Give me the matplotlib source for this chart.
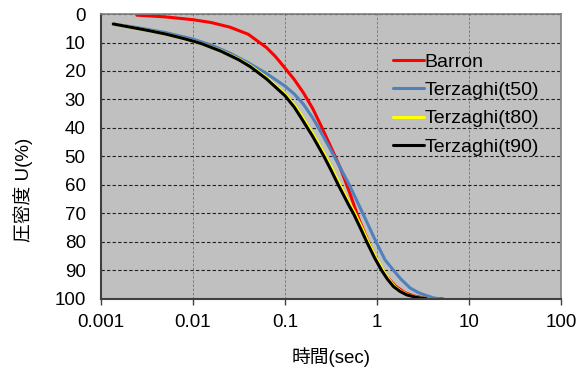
import matplotlib.pyplot as plt

plt.rcParams['font.family'] = ['Liberation Sans', 'Noto Sans CJK JP']

# 経過時間(sec) と 圧密度 U(%)
barron_t = [0.00245, 0.005, 0.01, 0.0158, 0.0251, 0.0398, 0.063, 0.079, 0.1, 0.126,
            0.158, 0.2, 0.251, 0.316, 0.398, 0.501, 0.631, 0.794, 1.0, 1.26,
            1.58, 2.0, 2.51, 3.16, 3.98, 5.2]
barron_u = [0.4, 1.0, 2.0, 3.0, 4.6, 7.1, 11.8, 15.0, 19.0, 23.0,
            27.6, 33.2, 39.8, 46.8, 54.0, 62.5, 71.8, 79.6, 87.0, 92.0,
            95.5, 97.8, 99.0, 99.6, 99.9, 100]

t50_t = [0.00136, 0.00251, 0.005, 0.01, 0.0158, 0.0251, 0.0398, 0.063, 0.1, 0.126,
         0.158, 0.2, 0.251, 0.34, 0.5, 0.7, 0.975, 1.22, 1.51, 1.82,
         2.29, 2.82, 3.47, 4.07, 4.8]
t50_u = [3.5, 4.8, 6.5, 8.8, 10.9, 13.7, 17.1, 20.9, 25.3, 28.1,
         31.6, 36.5, 42, 49.8, 60, 70, 80, 86.3, 90, 93.1,
         96.2, 97.8, 98.9, 99.6, 100]

t80_t = [0.00136, 0.002, 0.00316, 0.005, 0.0079, 0.0105, 0.0126, 0.0205, 0.0326, 0.0435,
         0.0655, 0.104, 0.131, 0.152, 0.208, 0.276, 0.329, 0.395, 0.52, 0.575,
         0.686, 0.80, 0.965, 1.16, 1.33, 1.55, 1.83, 2.15, 2.75, 3.6]
t80_u = [3.5, 4.5, 5.7, 7.0, 8.6, 9.7, 10.5, 13.0, 16.1, 18.5,
         22.8, 28.7, 32.7, 35.9, 43, 50, 54.8, 60, 67.5, 70,
         75.2, 80, 85.4, 90, 93, 95.7, 97.4, 98.6, 99.5, 100]

t90_t = [0.00136, 0.002, 0.00316, 0.005, 0.0079, 0.0105, 0.0126, 0.02, 0.0316, 0.042,
         0.063, 0.1, 0.126, 0.146, 0.2, 0.265, 0.316, 0.379, 0.5, 0.553,
         0.66, 0.772, 0.933, 1.12, 1.29, 1.51, 1.78, 2.1, 2.7, 3.5]
t90_u = [3.5, 4.5, 5.7, 7.0, 8.6, 9.7, 10.5, 13.0, 16.1, 18.5,
         22.8, 28.7, 32.7, 35.9, 43, 50, 54.8, 60, 67.5, 70,
         75.2, 80, 85.4, 90, 93, 95.7, 97.4, 98.6, 99.5, 100]

x_ticks = [0.001, 0.01, 0.1, 1, 10, 100]
x_labels = ['0.001', '0.01', '0.1', '1', '10', '100']
y_ticks = [0, 10, 20, 30, 40, 50, 60, 70, 80, 90, 100]

fig = plt.figure(figsize=(5.87, 3.69), dpi=100)
ax = fig.add_axes([0.172, 0.19, 0.784, 0.772])
ax.set_facecolor('#c0c0c0')

style = dict(lw=2.2, solid_joinstyle='round', solid_capstyle='round')
ax.plot(barron_t, barron_u, color='#ff0000', label='Barron', **style)
ax.plot(t50_t, t50_u, color='#4f81bd', label='Terzaghi(t50)', **style)
ax.plot(t80_t, t80_u, color='#ffff00', label='Terzaghi(t80)', **style)
ax.plot(t90_t, t90_u, color='#000000', label='Terzaghi(t90)', **style)

ax.set_xscale('log')
ax.set_xlim(0.001, 100)
ax.set_ylim(100, 0)
ax.set_xticks(x_ticks)
ax.set_xticklabels(x_labels)
ax.minorticks_off()
ax.set_yticks(y_ticks)

# 横線は黒の破線、縦線は灰色の細い破線
ax.grid(axis='y', color='#202020', ls=(0, (3, 2)), lw=0.8)
ax.grid(axis='x', color='#707070', ls=(0, (3, 2)), lw=0.6)
ax.set_axisbelow(True)

for s in ['left', 'bottom']:
    ax.spines[s].set_color('#404040')
    ax.spines[s].set_linewidth(1.5)
for s in ['top', 'right']:
    ax.spines[s].set_color('#808080')
    ax.spines[s].set_linewidth(1.2)

ax.tick_params(axis='x', length=4, width=1, color='#404040', pad=7, labelsize=13.5)
ax.tick_params(axis='y', length=0, pad=11, labelsize=13.5)

ax.set_xlabel('時間(sec)', fontsize=13.5)
ax.set_ylabel('圧密度 U(%)', fontsize=13.5)
ax.xaxis.set_label_coords(0.5, -0.17)
ax.yaxis.set_label_coords(-0.148, 0.382)

ax.legend(loc='upper left', bbox_to_anchor=(0.617, 0.89), frameon=False,
          fontsize=14, handlelength=1.6, handletextpad=0.05,
          labelspacing=0.55, borderaxespad=0)

fig.savefig('out.png', dpi=100)
